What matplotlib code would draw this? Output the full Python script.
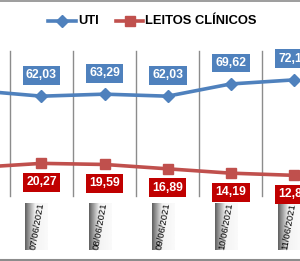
import matplotlib
matplotlib.use("Agg")
import matplotlib.pyplot as plt
import numpy as np
from matplotlib import font_manager

# Data (first point lies just left of the visible area)
dates = ["06/06/2021", "07/06/2021", "08/06/2021", "09/06/2021", "10/06/2021", "11/06/2021"]
uti = [65.4, 62.03, 63.29, 62.03, 69.62, 72.15]
leitos = [17.8, 20.27, 19.59, 16.89, 14.19, 12.84]
uti_labels = ["65,40", "62,03", "63,29", "62,03", "69,62", "72,15"]
leitos_labels = ["17,80", "20,27", "19,59", "16,89", "14,19", "12,84"]

names = {f.name for f in font_manager.fontManager.ttflist}
narrow = "Liberation Sans Narrow" if "Liberation Sans Narrow" in names else "Liberation Sans"

W, H, DPI = 300, 261, 100
fig = plt.figure(figsize=(W / DPI, H / DPI), dpi=DPI)
ax = fig.add_axes([0, 0, 1, 1])
x = np.arange(len(dates)) - 1  # index 0 = 07/06
ax.set_xlim(-0.658, 4.100)
ax.set_ylim(-40.4, 121.8)
ax.axis("off")

blue = "#4F81BD"
red_line = "#C0504D"
red_box = "#C00000"

# vertical gridlines between categories (value axis 0..90)
for g in np.arange(-0.5, 4.0, 1.0):
    ax.plot([g, g], [0, 90], color="#8c8c8c", lw=1.0, zorder=1)

ax.plot(x, uti, color=blue, lw=2.6, marker="D", ms=6.5, zorder=3)
ax.plot(x, leitos, color=red_line, lw=2.6, marker="s", ms=6.5, zorder=3)

visible = x >= 0
for xi, v, s, vis in zip(x, uti, uti_labels, visible):
    if not vis:
        continue
    ax.annotate(s, (xi, v), xytext=(0, 21), textcoords="offset pixels",
                ha="center", va="center", color="white", fontsize=8.8,
                family="Liberation Sans", fontweight="bold", zorder=5,
                bbox=dict(boxstyle="square,pad=0.28", fc=blue, ec="none"))
for xi, v, s, vis in zip(x, leitos, leitos_labels, visible):
    if not vis:
        continue
    ax.annotate(s, (xi, v), xytext=(0, -19), textcoords="offset pixels",
                ha="center", va="center", color="white", fontsize=8.8,
                family="Liberation Sans", fontweight="bold", zorder=5,
                bbox=dict(boxstyle="square,pad=0.28", fc=red_box, ec="none"))

# date labels in gradient boxes
grad = np.linspace(0, 1, 40)
vals = 0.38 + 0.55 * np.clip(grad / 0.45, 0, 1) + 0.05 * grad
img = np.tile(vals, (10, 1))
dx = 1 / 63.05
for xi, d, vis in zip(x, dates, visible):
    if not vis:
        continue
    x0, x1 = xi - 16 * dx, xi + 6 * dx
    ax.imshow(img, cmap="gray", vmin=0, vmax=1, extent=[x0, x1, -33.5, -4.3],
              aspect="auto", zorder=2, interpolation="bilinear")
    ax.text((x0 + x1) / 2 + 0.5 * dx, -18.9, d, rotation=80, ha="center", va="center",
            fontsize=6.8, family="Liberation Sans", color="black", zorder=4,
            rotation_mode="anchor")

# frame lines
fig.add_artist(plt.Line2D([0, 1], [1 - 0.5 / H, 1 - 0.5 / H], color="#8c8c8c", lw=1.2))
fig.add_artist(plt.Line2D([0, 1], [1.2 / H, 1.2 / H], color="#8c8c8c", lw=1.5))

# legend (manual)
ly = 1 - 21 / H
fig.add_artist(plt.Line2D([48 / W, 76 / W], [ly, ly], color=blue, lw=2.6))
fig.add_artist(plt.Line2D([62 / W], [ly], color=blue, marker="D", ms=6.5, lw=0))
fig.add_artist(plt.Line2D([116 / W, 143 / W], [ly, ly], color=red_line, lw=2.6))
fig.add_artist(plt.Line2D([129.5 / W], [ly], color=red_line, marker="s", ms=6.5, lw=0))
fig.text(78 / W, ly, "UTI", ha="left", va="center", fontsize=9.3,
         family=narrow, fontweight="bold", color="black")
fig.text(145 / W, ly, "LEITOS CLÍNICOS", ha="left", va="center", fontsize=9.3,
         family=narrow, fontweight="bold", color="black")

fig.savefig("out.png", dpi=DPI)
